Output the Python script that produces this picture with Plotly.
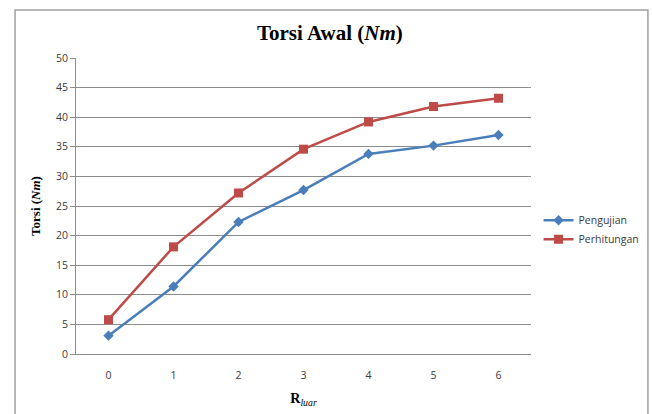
import plotly.graph_objects as go

# Data: initial torque vs outer radius index
r_luar = [0, 1, 2, 3, 4, 5, 6]
pengujian = [3.1, 11.4, 22.3, 27.7, 33.8, 35.2, 37.0]
perhitungan = [5.8, 18.1, 27.2, 34.6, 39.2, 41.8, 43.2]
y_ticks = [0, 5, 10, 15, 20, 25, 30, 35, 40, 45, 50]

blue = "#4A7EBB"
red = "#BE4B48"
grid = "#8C8C8C"
label_font = dict(family="Open Sans, Liberation Sans, sans-serif", size=10.5, color="#3A3A3A")
legend_font = dict(family="Open Sans, Liberation Sans, sans-serif", size=10.5, color="#3A3A3A")
serif = "Liberation Serif, Times New Roman, serif"

fig = go.Figure()
fig.add_trace(go.Scatter(
    x=r_luar, y=pengujian, name="Pengujian", mode="lines+markers",
    line=dict(color=blue, width=2.5),
    marker=dict(symbol="diamond", size=8, color=blue),
))
fig.add_trace(go.Scatter(
    x=r_luar, y=perhitungan, name="Perhitungan", mode="lines+markers",
    line=dict(color=red, width=2.5),
    marker=dict(symbol="square", size=9, color=red),
))

# outer chart frame (paper coords relative to the plot area)
fig.add_shape(type="rect", xref="paper", yref="paper",
              x0=-0.134, x1=1.257, y0=-0.25, y1=1.162,
              line=dict(color="#A0A0A0", width=1.5), fillcolor="rgba(0,0,0,0)",
              layer="below")

fig.update_layout(
    width=652, height=414,
    margin=dict(l=76, r=121, t=58, b=60, autoexpand=False),
    paper_bgcolor="white", plot_bgcolor="white",
    title=dict(text="Torsi Awal (<i>Nm</i>)", x=0.506, xanchor="center",
               y=0.92, yanchor="middle", yref="container",
               font=dict(family=serif, size=21, color="black", weight="bold")),
    showlegend=True,
    legend=dict(xref="container", yref="container", x=0.826, y=0.445,
                xanchor="left", yanchor="middle",
                font=legend_font, itemwidth=30, tracegroupgap=8,
                bgcolor="rgba(0,0,0,0)"),
    xaxis=dict(
        range=[-0.5, 6.5], tickmode="array", tickvals=r_luar,
        ticktext=[str(v) for v in r_luar],
        showgrid=False, zeroline=False, showline=True, linecolor=grid,
        linewidth=1, ticks="", tickfont=label_font, ticklabelstandoff=11,
        title=dict(text="<b>R</b><i><sub>luar</sub></i>", standoff=12,
                   font=dict(family=serif, size=14, color="black")),
    ),
    yaxis=dict(
        range=[0, 50], tickmode="array", tickvals=y_ticks,
        showgrid=True, gridcolor=grid, gridwidth=1, zeroline=False,
        showline=True, linecolor=grid, linewidth=1,
        ticks="outside", ticklen=5, tickcolor=grid, tickfont=label_font,
        title=dict(text="<b>Torsi (<i>Nm</i>)</b>", standoff=12,
                   font=dict(family=serif, size=13, color="black")),
    ),
)

fig.write_html("out.html")
